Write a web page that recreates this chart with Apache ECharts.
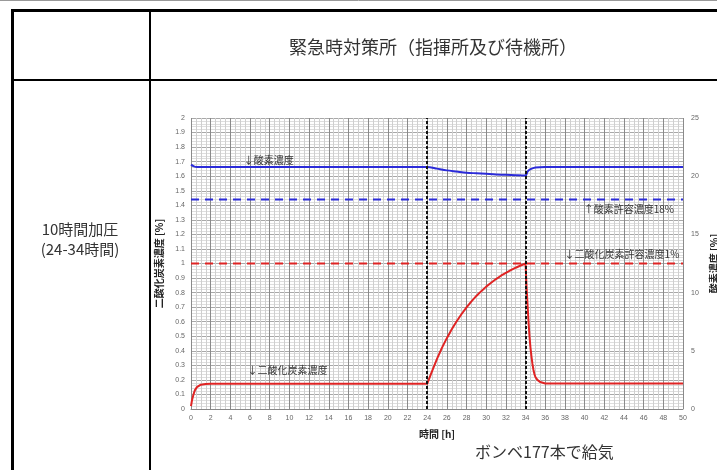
<!DOCTYPE html>
<html>
<head>
<meta charset="utf-8">
<script src="https://cdn.jsdelivr.net/npm/echarts@6/dist/echarts.min.js"></script>
<style>
  html, body { margin: 0; padding: 0; background: #fff; }
  #chart { width: 717px; height: 470px; }
</style>
</head>
<body>
<div id="chart"></div>
<script>
// 時間 [h]
const co2Time = [0, 0.1, 0.25, 0.4, 0.6, 0.8, 1, 1.5, 2, 24,
  24.5, 25, 25.5, 26, 26.5, 27, 27.5, 28, 28.5, 29, 29.5, 30, 30.5, 31, 31.5, 32, 32.5, 33, 33.5, 34,
  34.1, 34.2, 34.3, 34.4, 34.5, 34.6, 34.7, 34.8, 34.9, 35, 35.2, 35.5, 36, 50]
// 二酸化炭素濃度 [%]
const co2Value = [0.02, 0.06, 0.1, 0.13, 0.15, 0.16, 0.167, 0.172, 0.173, 0.173,
  0.26, 0.344, 0.42, 0.487, 0.548, 0.603, 0.653, 0.699, 0.74, 0.777, 0.81, 0.841, 0.868, 0.893, 0.916, 0.936, 0.955, 0.971, 0.986, 1.0,
  0.84, 0.72, 0.6, 0.5, 0.42, 0.36, 0.31, 0.27, 0.24, 0.22, 0.2, 0.185, 0.175, 0.175]

const o2Time = [0, 0.3, 0.6, 1, 24, 25, 26, 27, 28, 29, 30, 31, 32, 33, 34, 34.2, 34.5, 35, 36, 50]
// 酸素濃度 [%]
const o2Value = [21.0, 20.85, 20.8, 20.8, 20.8, 20.65, 20.5, 20.4, 20.3, 20.25, 20.2, 20.15, 20.12, 20.08, 20.05, 20.4, 20.6, 20.75, 20.8, 20.8]

const co2Limit = 1      // 二酸化炭素許容濃度
const o2Limit = 18      // 酸素許容濃度
const phaseLines = [24, 34]

const jp = '"Noto Sans CJK JP", sans-serif'
const chart = echarts.init(document.getElementById('chart'))

const zip = (xs, ys) => xs.map((x, i) => [x, ys[i]])
const note = (text, coord) => ({
  coord: coord,
  symbolSize: 0,
  label: { show: true, formatter: text, fontSize: 10, color: '#333', fontFamily: jp, position: 'inside' }
})
const axisName = { fontFamily: jp, fontSize: 10, fontWeight: 'bold', color: '#222' }

let option = {
  animation: false,
  backgroundColor: '#fff',
  grid: { left: 191, right: 34, top: 118, bottom: 61, outerBoundsMode: 'none' },
  xAxis: {
    type: 'value', min: 0, max: 50, interval: 2,
    name: '時間 [h]', nameLocation: 'middle', nameGap: 20,
    nameTextStyle: axisName,
    axisLine: { lineStyle: { color: '#888' } },
    axisTick: { show: false },
    axisLabel: { fontSize: 7, color: '#666', margin: 6 },
    splitLine: { show: true, lineStyle: { color: '#8a8a8a', width: 1 } },
    minorTick: { show: false, splitNumber: 4 },
    minorSplitLine: { show: true, lineStyle: { color: '#cfcfcf', width: 1 } }
  },
  yAxis: [
    {
      type: 'value', min: 0, max: 2, interval: 0.1,
      name: '二酸化炭素濃度 [%]', nameLocation: 'middle', nameGap: 27, nameRotate: 90,
      nameTextStyle: axisName,
      axisLine: { show: false },
      axisTick: { show: false },
      axisLabel: { fontSize: 7, color: '#666', margin: 6 },
      splitLine: { show: true, lineStyle: { color: '#a8a8a8', width: 1 } },
      minorTick: { show: false, splitNumber: 5 },
      minorSplitLine: { show: true, lineStyle: { color: '#dedede', width: 1 } }
    },
    {
      type: 'value', min: 0, max: 25, interval: 5,
      name: '酸素濃度 [%]', nameLocation: 'middle', nameGap: 19, nameRotate: 90,
      nameTextStyle: axisName,
      axisLine: { show: false },
      axisTick: { show: false },
      axisLabel: { fontSize: 7, color: '#666', margin: 8 },
      splitLine: { show: false }
    }
  ],
  series: [
    {
      type: 'line', yAxisIndex: 1, symbol: 'none',
      data: [[0, o2Limit], [50, o2Limit]],
      lineStyle: { color: '#2b2bd8', width: 2, type: [8, 6] },
      markPoint: { data: [note('↑酸素許容濃度18%', [44.5, 17.2])] }
    },
    {
      type: 'line', yAxisIndex: 0, symbol: 'none',
      data: [[0, co2Limit], [50, co2Limit]],
      lineStyle: { color: '#e02424', width: 2, type: [8, 6] },
      markPoint: { data: [note('↓二酸化炭素許容濃度1%', [43.8, 1.065])] }
    },
    {
      type: 'line', yAxisIndex: 1, symbol: 'none', smooth: 0.3,
      data: zip(o2Time, o2Value),
      lineStyle: { color: '#2b2bd8', width: 2 },
      markPoint: { data: [note('↓酸素濃度', [7.9, 21.4])] }
    },
    {
      type: 'line', yAxisIndex: 0, symbol: 'none',
      data: zip(co2Time, co2Value),
      lineStyle: { color: '#e02424', width: 2 },
      markPoint: { data: [note('↓二酸化炭素濃度', [9.8, 0.27])] },
      markLine: {
        silent: true, symbol: 'none', label: { show: false },
        lineStyle: { color: '#111', width: 2, type: [3, 2] },
        data: phaseLines.map(v => ({ xAxis: v }))
      }
    }
  ],
  graphic: [
    { type: 'line', shape: { x1: 0, y1: 0.5, x2: 717, y2: 0.5 }, style: { stroke: '#999', lineWidth: 1 } },
    { type: 'line', shape: { x1: 11, y1: 10.5, x2: 717, y2: 10.5 }, style: { stroke: '#000', lineWidth: 3 } },
    { type: 'line', shape: { x1: 12.5, y1: 9, x2: 12.5, y2: 470 }, style: { stroke: '#000', lineWidth: 3 } },
    { type: 'line', shape: { x1: 150, y1: 10, x2: 150, y2: 470 }, style: { stroke: '#000', lineWidth: 2 } },
    { type: 'line', shape: { x1: 12, y1: 80, x2: 717, y2: 80 }, style: { stroke: '#000', lineWidth: 2 } },
    {
      type: 'text', x: 433, y: 47,
      style: { text: '緊急時対策所（指揮所及び待機所）', font: '18px ' + jp, fill: '#333', align: 'center', verticalAlign: 'middle' }
    },
    {
      type: 'text', x: 80, y: 239,
      style: { text: '10時間加圧\n(24-34時間)', font: '15px ' + jp, fill: '#333', align: 'center', verticalAlign: 'middle', lineHeight: 20 }
    },
    {
      type: 'text', x: 475, y: 452,
      style: { text: 'ボンベ177本で給気', font: '16px ' + jp, fill: '#333', verticalAlign: 'middle' }
    }
  ]
}
chart.setOption(option)
</script>
</body>
</html>
